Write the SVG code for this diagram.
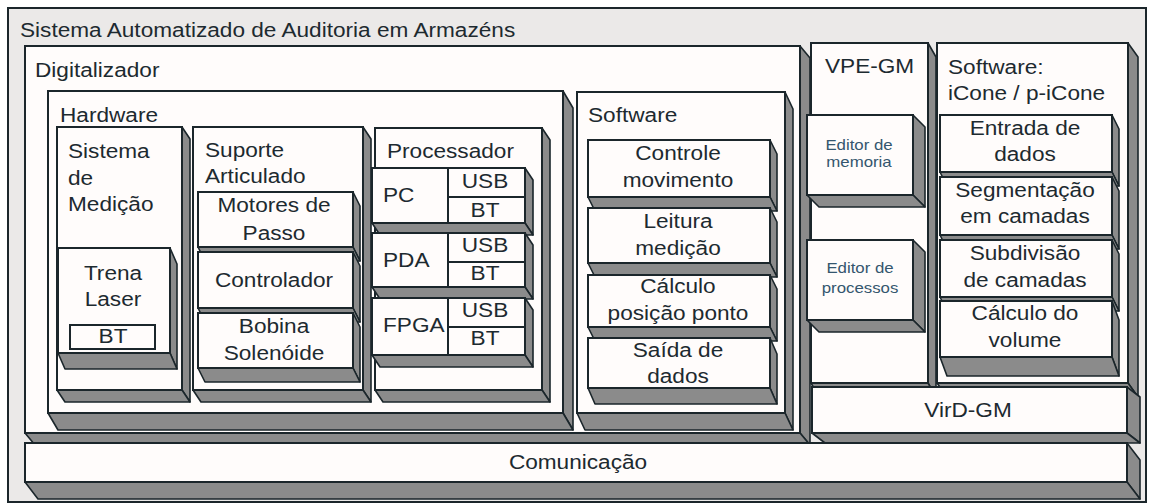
<svg xmlns="http://www.w3.org/2000/svg" width="1149" height="504" viewBox="0 0 1149 504">
<style>
.face{fill:#fffcfb;stroke:#1b262b;stroke-width:2}
.outer{fill:#ebe9e8;stroke:#1b262b;stroke-width:2}
.side{fill:#8b8b8b;stroke:#1b262b;stroke-width:1.6;stroke-linejoin:round}
.ln{stroke:#1b262b;stroke-width:2;fill:none}
.t{font-family:"Liberation Sans",Arial,sans-serif;font-size:19.5px;fill:#1d2a30}
.m{text-anchor:middle}
.s{font-size:14.5px;fill:#34566e}
</style>
<rect width="1149" height="504" fill="#ffffff"/>
<g id="sistema">
<rect class="outer" x="8" y="8" width="1138" height="494"/>
<text class="t" transform="translate(20,37) scale(1.16,1)">Sistema Automatizado de Auditoria em Armazéns</text>
</g>
<g id="digitalizador">
<polygon class="side" points="800,46 810,58 810,445 800,433"/>
<polygon class="side" points="25,433 800,433 810,445 35,445"/>
<rect class="face" x="25" y="46" width="775" height="387"/>
<text class="t" transform="translate(35,77) scale(1.16,1)">Digitalizador</text>
</g>
<g id="hardware">
<polygon class="side" points="563,91 573,108 573,430 563,413"/>
<polygon class="side" points="48,413 563,413 573,430 58,430"/>
<rect class="face" x="48" y="91" width="515" height="322"/>
<text class="t" transform="translate(60,122) scale(1.16,1)">Hardware</text>
</g>
<g id="sistema-medicao">
<polygon class="side" points="182,127 190,139 190,402 182,390"/>
<polygon class="side" points="57,390 182,390 190,402 65,402"/>
<rect class="face" x="57" y="127" width="125" height="263"/>
<text class="t" transform="translate(68,158) scale(1.16,1)">Sistema</text>
<text class="t" transform="translate(68,184.5) scale(1.16,1)">de</text>
<text class="t" transform="translate(68,211) scale(1.16,1)">Medição</text>
</g>
<g id="trena-laser">
<polygon class="side" points="170,248 177,264 177,369 170,353"/>
<polygon class="side" points="58,353 170,353 177,369 65,369"/>
<rect class="face" x="58" y="248" width="112" height="105"/>
<text class="t m" transform="translate(113,280) scale(1.16,1)">Trena</text>
<text class="t m" transform="translate(113,306) scale(1.16,1)">Laser</text>
<rect class="face" x="70" y="325" width="85" height="24"/>
<text class="t m" transform="translate(113,343) scale(1.16,1)">BT</text>
</g>
<g id="suporte-articulado">
<polygon class="side" points="363,127 371,139 371,402 363,390"/>
<polygon class="side" points="193,390 363,390 371,402 201,402"/>
<rect class="face" x="193" y="127" width="170" height="263"/>
<text class="t" transform="translate(205,157) scale(1.16,1)">Suporte</text>
<text class="t" transform="translate(205,183) scale(1.16,1)">Articulado</text>
</g>
<g id="motores-passo">
<polygon class="side" points="353,192 360,206 360,261 353,247"/>
<polygon class="side" points="198,247 353,247 360,261 205,261"/>
<rect class="face" x="198" y="192" width="155" height="55"/>
<text class="t m" transform="translate(274,212) scale(1.16,1)">Motores de</text>
<text class="t m" transform="translate(274,240) scale(1.16,1)">Passo</text>
</g>
<g id="controlador">
<polygon class="side" points="353,252 360,266 360,322 353,308"/>
<polygon class="side" points="198,308 353,308 360,322 205,322"/>
<rect class="face" x="198" y="252" width="155" height="56"/>
<text class="t m" transform="translate(274,287) scale(1.16,1)">Controlador</text>
</g>
<g id="bobina-solenoide">
<polygon class="side" points="353,313 360,327 360,382 353,368"/>
<polygon class="side" points="198,368 353,368 360,382 205,382"/>
<rect class="face" x="198" y="313" width="155" height="55"/>
<text class="t m" transform="translate(274,333) scale(1.16,1)">Bobina</text>
<text class="t m" transform="translate(274,360) scale(1.16,1)">Solenóide</text>
</g>
<g id="processador">
<polygon class="side" points="542,128 550,140 550,402 542,390"/>
<polygon class="side" points="375,390 542,390 550,402 383,402"/>
<rect class="face" x="375" y="128" width="167" height="262"/>
<text class="t" transform="translate(387,158) scale(1.16,1)">Processador</text>
</g>
<g id="pc">
<polygon class="side" points="525,168 533,180 533,235 525,223"/>
<polygon class="side" points="372,223 525,223 533,235 380,235"/>
<rect class="face" x="372" y="168" width="153" height="55"/>
<path class="ln" d="M448,168V223M448,197H525"/>
<text class="t" transform="translate(383,202) scale(1.16,1)">PC</text>
<text class="t m" transform="translate(485,188) scale(1.16,1)">USB</text>
<text class="t m" transform="translate(485,217) scale(1.16,1)">BT</text>
</g>
<g id="pda">
<polygon class="side" points="525,233 533,245 533,299 525,287"/>
<polygon class="side" points="372,287 525,287 533,299 380,299"/>
<rect class="face" x="372" y="233" width="153" height="54"/>
<path class="ln" d="M448,233V287M448,262H525"/>
<text class="t" transform="translate(383,267) scale(1.16,1)">PDA</text>
<text class="t m" transform="translate(485,252) scale(1.16,1)">USB</text>
<text class="t m" transform="translate(485,280) scale(1.16,1)">BT</text>
</g>
<g id="fpga">
<polygon class="side" points="525,298 533,310 533,367 525,355"/>
<polygon class="side" points="372,355 525,355 533,367 380,367"/>
<rect class="face" x="372" y="298" width="153" height="57"/>
<path class="ln" d="M448,298V355M448,327H525"/>
<text class="t" transform="translate(383,332) scale(1.16,1)">FPGA</text>
<text class="t m" transform="translate(485,317) scale(1.16,1)">USB</text>
<text class="t m" transform="translate(485,345) scale(1.16,1)">BT</text>
</g>
<g id="software">
<polygon class="side" points="785,92 793,109 793,430 785,413"/>
<polygon class="side" points="577,413 785,413 793,430 585,430"/>
<rect class="face" x="577" y="92" width="208" height="321"/>
<text class="t" transform="translate(588,122) scale(1.16,1)">Software</text>
</g>
<g id="controle-movimento">
<polygon class="side" points="770,140 777,154 777,211 770,197"/>
<polygon class="side" points="588,197 770,197 777,211 595,211"/>
<rect class="face" x="588" y="140" width="182" height="57"/>
<text class="t m" transform="translate(678,160) scale(1.16,1)">Controle</text>
<text class="t m" transform="translate(678,187) scale(1.16,1)">movimento</text>
</g>
<g id="leitura-medicao">
<polygon class="side" points="770,208 777,222 777,277 770,263"/>
<polygon class="side" points="588,263 770,263 777,277 595,277"/>
<rect class="face" x="588" y="208" width="182" height="55"/>
<text class="t m" transform="translate(678,228) scale(1.16,1)">Leitura</text>
<text class="t m" transform="translate(678,255) scale(1.16,1)">medição</text>
</g>
<g id="calculo-posicao">
<polygon class="side" points="770,275 777,289 777,341 770,327"/>
<polygon class="side" points="588,327 770,327 777,341 595,341"/>
<rect class="face" x="588" y="275" width="182" height="52"/>
<text class="t m" transform="translate(678,293) scale(1.16,1)">Cálculo</text>
<text class="t m" transform="translate(678,320) scale(1.16,1)">posição ponto</text>
</g>
<g id="saida-dados">
<polygon class="side" points="770,338 777,354 777,404 770,388"/>
<polygon class="side" points="588,388 770,388 777,404 595,404"/>
<rect class="face" x="588" y="338" width="182" height="50"/>
<text class="t m" transform="translate(678,357) scale(1.16,1)">Saída de</text>
<text class="t m" transform="translate(678,383) scale(1.16,1)">dados</text>
</g>
<g id="vpe-gm">
<polygon class="side" points="928,43 936,57 936,397 928,383"/>
<polygon class="side" points="811,383 928,383 936,397 819,397"/>
<rect class="face" x="811" y="43" width="117" height="340"/>
<text class="t" transform="translate(825,73) scale(1.16,1)">VPE-GM</text>
</g>
<g id="editor-memoria">
<polygon class="side" points="913,115 925,127 925,207 913,195"/>
<polygon class="side" points="807,195 913,195 925,207 819,207"/>
<rect class="face" x="807" y="115" width="106" height="80"/>
<text class="t m s" transform="translate(859,150) scale(1.16,1)">Editor de</text>
<text class="t m s" transform="translate(859,167) scale(1.16,1)">memoria</text>
</g>
<g id="editor-processos">
<polygon class="side" points="913,240 925,252 925,332 913,320"/>
<polygon class="side" points="807,320 913,320 925,332 819,332"/>
<rect class="face" x="807" y="240" width="106" height="80"/>
<text class="t m s" transform="translate(860,273) scale(1.16,1)">Editor de</text>
<text class="t m s" transform="translate(860,293) scale(1.16,1)">processos</text>
</g>
<g id="icone">
<polygon class="side" points="1128,43 1138,57 1138,397 1128,383"/>
<polygon class="side" points="937,383 1128,383 1138,397 947,397"/>
<rect class="face" x="937" y="43" width="191" height="340"/>
<text class="t" transform="translate(948,74) scale(1.16,1)">Software:</text>
<text class="t" transform="translate(948,100) scale(1.16,1)">iCone / p-iCone</text>
</g>
<g id="entrada-dados">
<polygon class="side" points="1112,115 1119,129 1119,186 1112,172"/>
<polygon class="side" points="940,172 1112,172 1119,186 947,186"/>
<rect class="face" x="940" y="115" width="172" height="57"/>
<text class="t m" transform="translate(1025,135) scale(1.16,1)">Entrada de</text>
<text class="t m" transform="translate(1025,161) scale(1.16,1)">dados</text>
</g>
<g id="segmentacao">
<polygon class="side" points="1112,177 1119,191 1119,249 1112,235"/>
<polygon class="side" points="940,235 1112,235 1119,249 947,249"/>
<rect class="face" x="940" y="177" width="172" height="58"/>
<text class="t m" transform="translate(1025,197) scale(1.16,1)">Segmentação</text>
<text class="t m" transform="translate(1025,223) scale(1.16,1)">em camadas</text>
</g>
<g id="subdivisao">
<polygon class="side" points="1112,240 1119,254 1119,311 1112,297"/>
<polygon class="side" points="940,297 1112,297 1119,311 947,311"/>
<rect class="face" x="940" y="240" width="172" height="57"/>
<text class="t m" transform="translate(1025,260) scale(1.16,1)">Subdivisão</text>
<text class="t m" transform="translate(1025,287) scale(1.16,1)">de camadas</text>
</g>
<g id="calculo-volume">
<polygon class="side" points="1112,301 1119,320 1119,376 1112,357"/>
<polygon class="side" points="940,357 1112,357 1119,376 947,376"/>
<rect class="face" x="940" y="301" width="172" height="56"/>
<text class="t m" transform="translate(1025,320) scale(1.16,1)">Cálculo do</text>
<text class="t m" transform="translate(1025,347) scale(1.16,1)">volume</text>
</g>
<g id="vird-gm">
<polygon class="side" points="1127,387 1140,397 1140,443 1127,433"/>
<polygon class="side" points="812,433 1127,433 1140,443 825,443"/>
<rect class="face" x="812" y="387" width="315" height="46"/>
<text class="t m" transform="translate(968,417) scale(1.16,1)">VirD-GM</text>
</g>
<g id="comunicacao">
<polygon class="side" points="1127,443 1140,460 1140,499 1127,482"/>
<polygon class="side" points="25,482 1127,482 1140,499 38,499"/>
<rect class="face" x="25" y="443" width="1102" height="39"/>
<text class="t m" transform="translate(578,469) scale(1.16,1)">Comunicação</text>
</g>
<g id="connectors"/>
</svg>
